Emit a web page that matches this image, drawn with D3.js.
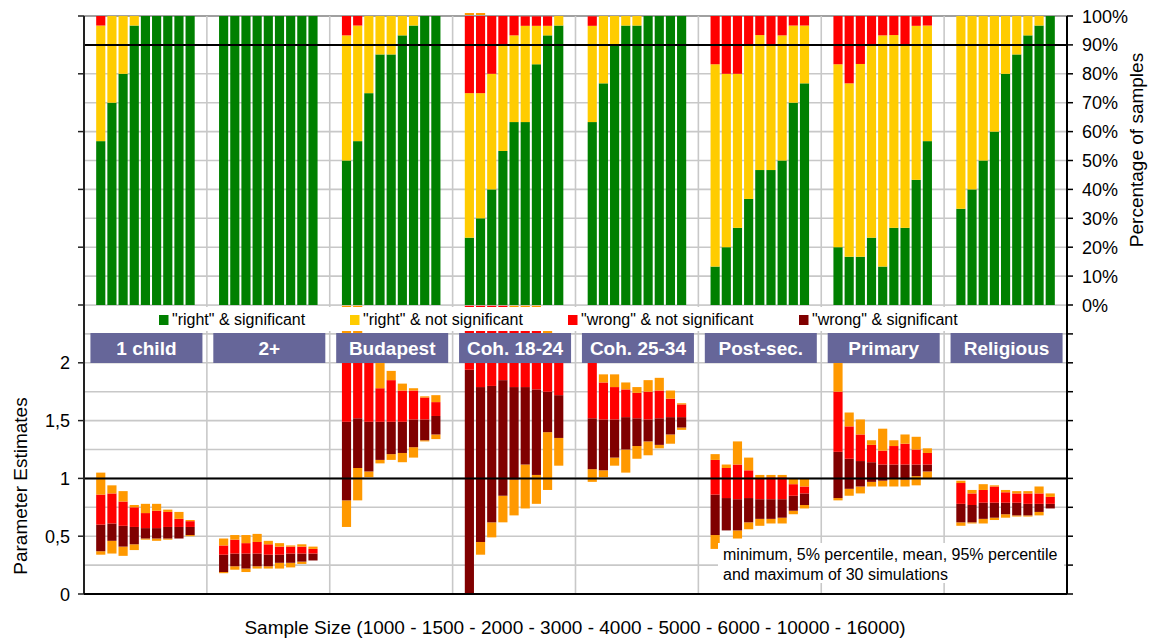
<!DOCTYPE html>
<html><head><meta charset="utf-8">
<script src="https://cdn.jsdelivr.net/npm/d3@7"></script>
<style>body{margin:0;background:#fff} svg{display:block} text{font-family:"Liberation Sans",Arial,sans-serif}</style>
</head><body><svg id="c" width="1158" height="638"></svg>
<script>
// ---------------- DATA ----------------
const groups = ["1 child","2+","Budapest","Coh. 18-24","Coh. 25-34","Post-sec.","Primary","Religious"];
const sampleSizes = ["1000","1500","2000","3000","4000","5000","6000","10000","16000"];
const seriesNames = ['"right" & significant','"right" & not significant','"wrong" & not significant','"wrong" & significant'];

// top panel: percentage of 30 samples (9 sample sizes per group)
const rightSig = [
  56.7,70,80,96.7,100,100,100,100,100,
  100,100,100,100,100,100,100,100,100,
  50,56.7,73.3,86.7,86.7,93.3,96.7,100,100,
  23.3,30,40,53.3,63.3,63.3,83.3,93.3,96.7,
  63.3,76.7,90,96.7,96.7,100,100,100,100,
  13.3,20,26.7,36.7,46.7,46.7,50,70,76.7,
  20,16.7,16.7,23.3,13.3,26.7,26.7,43.3,56.7,
  33.3,40,50,60,80,86.7,93.3,96.7,100];
const rightNotSig = [
  40,30,20,3.3,0,0,0,0,0,
  0,0,0,0,0,0,0,0,0,
  43.3,40,26.7,13.3,13.3,6.7,3.3,0,0,
  50,43.3,40,36.7,30,33.3,13.3,3.3,3.3,
  33.3,23.3,10,3.3,3.3,0,0,0,0,
  70,60,53.3,53.3,46.7,43.3,43.3,26.7,20,
  63.3,60,66.7,66.7,80,66.7,63.3,53.3,40,
  66.7,60,50,40,20,13.3,6.7,3.3,0];
const wrongNotSig = [
  3.3,0,0,0,0,0,0,0,0,
  0,0,0,0,0,0,0,0,0,
  6.7,3.3,0,0,0,0,0,0,0,
  26.7,26.7,20,10,6.7,3.3,3.3,3.3,0,
  3.3,0,0,0,0,0,0,0,0,
  16.7,20,20,10,6.7,10,6.7,3.3,3.3,
  16.7,23.3,16.7,10,6.7,6.7,10,3.3,3.3,
  0,0,0,0,0,0,0,0,0];
const wrongSig = [
  0,0,0,0,0,0,0,0,0,
  0,0,0,0,0,0,0,0,0,
  0,0,0,0,0,0,0,0,0,
  0,0,0,0,0,0,0,0,0,
  0,0,0,0,0,0,0,0,0,
  0,0,0,0,0,0,0,0,0,
  0,0,0,0,0,0,0,0,0,
  0,0,0,0,0,0,0,0,0];

// bottom panel: parameter estimates of 30 simulations
const estMin = [
  0.34,0.35,0.33,0.38,0.47,0.46,0.47,0.48,0.50,
  0.18,0.21,0.19,0.22,0.22,0.22,0.23,0.26,0.29,
  0.58,0.81,1.01,1.13,1.16,1.14,1.18,1.32,1.34,
  0,0.34,0.49,0.62,0.68,0.74,0.78,0.90,1.11,
  0.97,1.01,1.11,1.05,1.17,1.20,1.26,1.30,1.42,
  0.39,0.55,0.48,0.56,0.59,0.61,0.61,0.69,0.74,
  0.81,0.85,0.87,0.93,0.93,0.93,0.93,0.94,1.00,
  0.59,0.61,0.61,0.64,0.66,0.67,0.67,0.68,0.74];
const estP5 = [
  0.37,0.46,0.41,0.43,0.48,0.48,0.48,0.48,0.51,
  0.19,0.24,0.22,0.24,0.24,0.27,0.27,0.28,0.29,
  0.81,1.09,1.06,1.16,1.21,1.22,1.27,1.33,1.38,
  0,0.45,0.62,0.85,0.99,1.12,1.03,1.40,1.35,
  1.08,1.07,1.18,1.25,1.28,1.32,1.29,1.38,1.44,
  0.51,0.55,0.55,0.62,0.65,0.65,0.66,0.72,0.77,
  0.83,0.91,0.93,0.97,0.98,1.00,0.99,1.02,1.06,
  0.62,0.62,0.65,0.66,0.69,0.68,0.68,0.71,0.74];
const estMean = [
  0.60,0.61,0.59,0.58,0.57,0.57,0.58,0.58,0.58,
  0.34,0.35,0.35,0.35,0.34,0.34,0.35,0.35,0.35,
  1.49,1.52,1.49,1.49,1.49,1.49,1.51,1.51,1.54,
  1.94,1.79,1.80,1.85,1.79,1.79,1.77,1.75,1.72,
  1.52,1.51,1.51,1.53,1.52,1.51,1.52,1.53,1.53,
  0.86,0.83,0.82,0.83,0.82,0.82,0.82,0.85,0.87,
  1.23,1.17,1.15,1.14,1.12,1.12,1.12,1.12,1.12,
  0.78,0.77,0.79,0.79,0.79,0.79,0.78,0.78,0.78];
const estP95 = [
  0.86,0.87,0.80,0.75,0.70,0.72,0.71,0.65,0.63,
  0.42,0.47,0.44,0.45,0.43,0.41,0.41,0.41,0.39,
  2.15,2.15,2.10,1.78,1.85,1.76,1.76,1.70,1.66,
  3.0,3.0,2.7,2.6,2.4,2.4,2.4,2.15,2.05,
  2.10,1.83,1.79,1.77,1.74,1.75,1.76,1.69,1.64,
  1.16,1.09,1.12,1.07,1.00,1.01,1.01,0.95,0.93,
  1.75,1.45,1.38,1.29,1.24,1.28,1.30,1.25,1.22,
  0.96,0.87,0.90,0.93,0.88,0.87,0.87,0.87,0.84];
const estMax = [
  1.05,0.94,0.89,0.77,0.78,0.78,0.73,0.71,0.64,
  0.48,0.51,0.51,0.52,0.46,0.44,0.42,0.43,0.41,
  2.6,2.6,2.2,2.1,1.93,1.82,1.78,1.71,1.72,
  5.5,5.5,3.2,3.0,2.7,2.6,2.6,2.4,2.15,
  2.15,1.90,1.90,1.83,1.79,1.85,1.87,1.76,1.65,
  1.21,1.12,1.32,1.18,1.03,1.03,1.03,1.00,1.00,
  2.1,1.57,1.51,1.33,1.43,1.33,1.38,1.36,1.26,
  0.98,0.90,0.95,0.94,0.90,0.89,0.89,0.93,0.87];

const pctTicks = [0,10,20,30,40,50,60,70,80,90,100];
const estLabelTicks = [0,0.5,1,1.5,2];
const estLabels = ["0","0,5","1","1,5","2"];
const pctRef = 90, estRef = 1;
const xTitle = "Sample Size (1000 - 1500 - 2000 - 3000 - 4000 - 5000 - 6000 - 10000 - 16000)";
const noteLines = ["minimum, 5% percentile, mean, 95% percentile","and maximum of 30 simulations"];

// ---------------- STYLE / LAYOUT ----------------
const C = {green:"#008000", yellow:"#FFCC00", red:"#FF0000", dred:"#800000", orange:"#FF9900", box:"#666699", grid:"#c8c8c8"};
const L = 84, R = 1067, T = 16, TB = 305, BB = 594;

const svg = d3.select("#c");
const slots = [];
groups.forEach(g => { for (let s = 0; s < 11; s++) slots.push(g + "|" + s); });
const x = d3.scaleBand().domain(slots).range([L, R]).paddingInner(0.18).paddingOuter(0.09);
const slotOf = i => groups[Math.floor(i/9)] + "|" + (i%9 + 1);
const groupStart = g => x(g + "|0") - x.step()*0.09;
const groupW = x.step()*11;

const yTop = d3.scaleLinear().domain([0,100]).range([TB, T]);
const yBot = d3.scaleLinear().domain([0,5]).range([BB, T]);

const rows = rightSig.map((v,i) => ({slot: slotOf(i), rs: v, rn: rightNotSig[i], wn: wrongNotSig[i], ws: wrongSig[i],
  mn: estMin[i], p5: estP5[i], me: estMean[i], p95: estP95[i], mx: estMax[i]}));

// ---- bottom chart (full height, partially hidden by top chart) ----
svg.append("defs").append("clipPath").attr("id","bclip").append("rect")
  .attr("x", L).attr("y", 13).attr("width", R-L).attr("height", BB-13);

const bg = svg.append("g");
bg.selectAll("line.hg").data(d3.range(0, 5.001, 0.25)).join("line")
  .attr("x1", L).attr("x2", R).attr("y1", d => yBot(d)).attr("y2", d => yBot(d))
  .attr("stroke", C.grid).attr("stroke-width", 1.6);
bg.selectAll("line.vg").data(groups.slice(1)).join("line")
  .attr("x1", g => groupStart(g)).attr("x2", g => groupStart(g)).attr("y1", T).attr("y2", BB)
  .attr("stroke", C.grid).attr("stroke-width", 1.6);

const segs = [];
rows.forEach(r => {
  segs.push({slot:r.slot, a:r.mn, b:r.p5, c:C.orange});
  segs.push({slot:r.slot, a:r.p5, b:r.me, c:C.dred});
  segs.push({slot:r.slot, a:r.me, b:r.p95, c:C.red});
  segs.push({slot:r.slot, a:r.p95, b:r.mx, c:C.orange});
});
svg.append("g").attr("clip-path","url(#bclip)").selectAll("rect").data(segs).join("rect")
  .attr("x", d => x(d.slot)).attr("width", x.bandwidth())
  .attr("y", d => yBot(d.b)).attr("height", d => Math.max(0, yBot(d.a) - yBot(d.b)))
  .attr("fill", d => d.c);

// reference line at 1
svg.append("line").attr("x1", L).attr("x2", R).attr("y1", yBot(estRef)).attr("y2", yBot(estRef))
  .attr("stroke", "#000").attr("stroke-width", 2);

// ---- top chart ----
svg.append("rect").attr("x", L).attr("y", T).attr("width", R-L).attr("height", TB-T).attr("fill", "#fff");
const tg = svg.append("g");
tg.selectAll("line.hg").data(pctTicks).join("line")
  .attr("x1", L).attr("x2", R).attr("y1", d => yTop(d)).attr("y2", d => yTop(d))
  .attr("stroke", d => d === 100 ? "#a0a0a0" : C.grid).attr("stroke-width", d => d === 100 ? 2 : 1.6);
tg.selectAll("line.vg").data(groups.slice(1)).join("line")
  .attr("x1", g => groupStart(g)).attr("x2", g => groupStart(g)).attr("y1", T).attr("y2", TB)
  .attr("stroke", C.grid).attr("stroke-width", 1.6);

const keys = ["rs","rn","wn","ws"];
const colors = [C.green, C.yellow, C.red, C.dred];
const stack = d3.stack().keys(keys)(rows);
stack.forEach((layer, k) => {
  svg.append("g").selectAll("rect").data(layer).join("rect")
    .attr("x", d => x(d.data.slot)).attr("width", x.bandwidth())
    .attr("y", d => yTop(Math.min(100, d[1]))).attr("height", d => Math.max(0, yTop(d[0]) - yTop(Math.min(100, d[1]))))
    .attr("fill", colors[k]);
});
svg.append("line").attr("x1", L).attr("x2", R).attr("y1", yTop(pctRef)).attr("y2", yTop(pctRef))
  .attr("stroke", "#000").attr("stroke-width", 2);

// ---- legend ----
svg.append("rect").attr("x", 150).attr("y", 307).attr("width", 820).attr("height", 24).attr("fill", "#fff");
const legX = [159, 350, 568, 799];
const lg = svg.append("g").selectAll("g").data(seriesNames).join("g")
  .attr("transform", (d,i) => `translate(${legX[i]},315)`);
lg.append("rect").attr("width", 9.5).attr("height", 10).attr("fill", (d,i) => colors[i]);
lg.append("text").attr("x", 13).attr("y", 10).attr("font-size", 16).attr("fill", "#000").text(d => d);

// ---- group label boxes ----
const boxW = 112;
const bx = svg.append("g").selectAll("g").data(groups).join("g")
  .attr("transform", g => `translate(${groupStart(g) + groupW/2 + 1 - boxW/2},333)`);
bx.append("rect").attr("width", boxW).attr("height", 30).attr("fill", C.box);
bx.append("text").attr("x", boxW/2).attr("y", 22).attr("text-anchor", "middle")
  .attr("font-size", 19).attr("font-weight", "bold").attr("fill", "#fff").text(g => g);

// ---- annotation ----
svg.append("rect").attr("x", 718).attr("y", 543).attr("width", 346).attr("height", 40).attr("fill", "#fff");
svg.append("g").selectAll("text").data(noteLines).join("text")
  .attr("x", 723).attr("y", (d,i) => 560 + i*20).attr("font-size", 16).attr("fill", "#000").text(d => d);

// ---- axes ----
const ax = svg.append("g");
ax.append("line").attr("x1", L).attr("x2", L).attr("y1", T).attr("y2", BB).attr("stroke", "#222").attr("stroke-width", 2);
ax.append("line").attr("x1", R).attr("x2", R).attr("y1", T).attr("y2", BB).attr("stroke", "#000").attr("stroke-width", 2);
ax.append("line").attr("x1", L).attr("x2", R).attr("y1", BB).attr("y2", BB).attr("stroke", "#000").attr("stroke-width", 2);
ax.selectAll("line.lt").data(d3.range(0, 5.001, 0.5)).join("line")
  .attr("x1", L-6).attr("x2", L).attr("y1", d => yBot(d)).attr("y2", d => yBot(d)).attr("stroke", "#222").attr("stroke-width", 1.5);
ax.selectAll("line.rt").data(d3.range(0, 5.001, 0.25)).join("line")
  .attr("x1", R).attr("x2", R+6).attr("y1", d => yBot(d)).attr("y2", d => yBot(d)).attr("stroke", "#000").attr("stroke-width", 1.5);
ax.selectAll("text.lt").data(estLabelTicks).join("text")
  .attr("x", 70).attr("y", d => yBot(d) + 6.5).attr("text-anchor", "end").attr("font-size", 18).attr("fill", "#000")
  .text((d,i) => estLabels[i]);
ax.selectAll("text.rt").data(pctTicks).join("text")
  .attr("x", 1082).attr("y", d => yTop(d) + 6.5).attr("font-size", 18).attr("fill", "#000")
  .text(d => d + "%");

// ---- titles ----
svg.append("text").attr("transform", "translate(27,486) rotate(-90)").attr("text-anchor", "middle")
  .attr("font-size", 19).attr("fill", "#000").text("Parameter Estimates");
svg.append("text").attr("transform", "translate(1143,150) rotate(-90)").attr("text-anchor", "middle")
  .attr("font-size", 19).attr("fill", "#000").text("Percentage of samples");
svg.append("text").attr("x", 575).attr("y", 634).attr("text-anchor", "middle")
  .attr("font-size", 19).attr("fill", "#000").text(xTitle);
</script>
</body></html>
